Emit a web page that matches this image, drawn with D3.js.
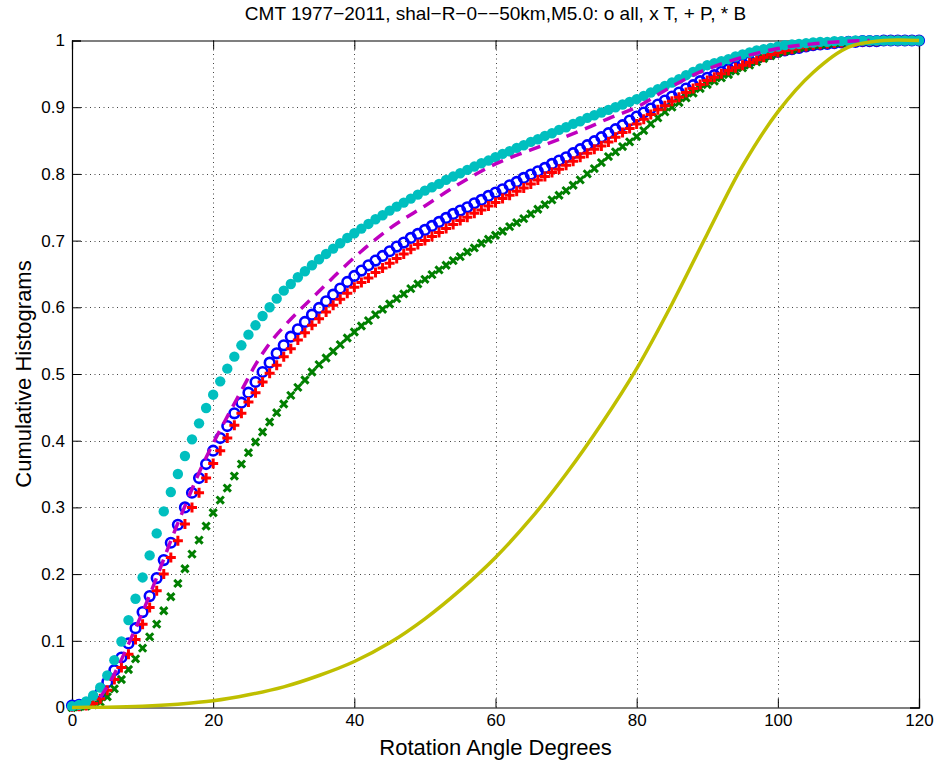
<!DOCTYPE html>
<html>
<head>
<meta charset="utf-8">
<script src="https://cdn.jsdelivr.net/npm/d3@7"></script>
<style>
  body { margin: 0; background: #fff; }
  text { font-family: "Liberation Sans", Arial, sans-serif; }
</style>
</head>
<body>
<script>
// rotation angle bins, 1 degree steps 0..120
const angles = d3.range(0, 121);

// o all (blue circles)
const allVals = [0.003,0.004,0.006,0.011,0.022,0.038,0.056,0.075,0.096,0.119,
  0.143,0.167,0.194,0.221,0.247,0.274,0.300,0.322,0.344,0.365,
  0.385,0.404,0.422,0.441,0.457,0.472,0.488,0.503,0.517,0.531,
  0.543,0.556,0.567,0.578,0.589,0.599,0.609,0.619,0.628,0.638,
  0.647,0.655,0.663,0.670,0.677,0.684,0.691,0.697,0.704,0.710,
  0.716,0.722,0.728,0.734,0.740,0.745,0.750,0.756,0.761,0.767,
  0.772,0.777,0.783,0.788,0.794,0.799,0.804,0.809,0.815,0.820,
  0.825,0.831,0.837,0.843,0.849,0.855,0.861,0.867,0.873,0.880,
  0.886,0.892,0.898,0.904,0.910,0.916,0.922,0.928,0.933,0.939,
  0.944,0.948,0.953,0.957,0.961,0.965,0.969,0.973,0.977,0.980,
  0.983,0.985,0.987,0.989,0.991,0.993,0.994,0.995,0.996,0.997,
  0.998,0.998,0.999,0.999,0.999,1,1,1,1,1,1];

// x T (green)
const tVals = [0.000,0.001,0.002,0.004,0.008,0.016,0.028,0.042,0.057,0.073,
  0.089,0.106,0.125,0.145,0.166,0.186,0.208,0.230,0.251,0.272,
  0.292,0.311,0.329,0.347,0.365,0.382,0.398,0.413,0.428,0.442,
  0.455,0.468,0.480,0.491,0.503,0.514,0.524,0.534,0.544,0.554,
  0.563,0.572,0.580,0.589,0.597,0.605,0.613,0.620,0.628,0.635,
  0.642,0.649,0.656,0.663,0.670,0.676,0.683,0.689,0.696,0.702,
  0.708,0.714,0.721,0.727,0.733,0.740,0.747,0.754,0.761,0.768,
  0.775,0.783,0.791,0.800,0.808,0.817,0.826,0.833,0.841,0.848,
  0.856,0.865,0.875,0.884,0.893,0.900,0.907,0.914,0.921,0.928,
  0.934,0.939,0.944,0.949,0.954,0.959,0.963,0.968,0.973,0.977,
  0.981,0.984,0.986,0.989,0.991,0.993,0.994,0.995,0.996,0.997,
  0.998,0.998,0.999,0.999,0.999,1,1,1,1,1,1];

// + P (red)
const pVals = [0.001,0.002,0.003,0.006,0.013,0.026,0.042,0.060,0.080,0.102,
  0.125,0.150,0.175,0.200,0.225,0.250,0.275,0.300,0.322,0.344,
  0.366,0.385,0.404,0.423,0.441,0.458,0.472,0.488,0.501,0.513,
  0.526,0.538,0.551,0.562,0.573,0.583,0.593,0.603,0.612,0.621,
  0.630,0.637,0.644,0.652,0.659,0.666,0.673,0.680,0.687,0.694,
  0.700,0.706,0.712,0.718,0.724,0.730,0.735,0.741,0.746,0.752,
  0.757,0.763,0.768,0.774,0.779,0.785,0.791,0.796,0.802,0.807,
  0.813,0.819,0.825,0.831,0.837,0.842,0.848,0.855,0.862,0.868,
  0.875,0.882,0.889,0.896,0.902,0.909,0.915,0.922,0.928,0.934,
  0.940,0.945,0.950,0.955,0.959,0.963,0.967,0.971,0.975,0.979,
  0.982,0.985,0.987,0.989,0.991,0.993,0.994,0.995,0.996,0.997,
  0.998,0.998,0.999,0.999,0.999,1,1,1,1,1,1];

// * B (cyan dots)
const bVals = [0.002,0.004,0.009,0.018,0.030,0.048,0.071,0.099,0.131,0.163,
  0.195,0.228,0.261,0.294,0.323,0.350,0.377,0.402,0.426,0.449,
  0.469,0.489,0.508,0.526,0.543,0.559,0.573,0.587,0.600,0.613,
  0.625,0.635,0.645,0.654,0.663,0.672,0.680,0.688,0.696,0.704,
  0.711,0.718,0.725,0.732,0.738,0.745,0.751,0.757,0.763,0.769,
  0.775,0.780,0.785,0.791,0.796,0.801,0.806,0.811,0.816,0.820,
  0.825,0.830,0.834,0.839,0.843,0.848,0.852,0.857,0.861,0.866,
  0.870,0.875,0.879,0.884,0.888,0.892,0.896,0.900,0.904,0.908,
  0.912,0.917,0.922,0.927,0.932,0.937,0.942,0.948,0.953,0.958,
  0.963,0.966,0.969,0.972,0.976,0.979,0.982,0.985,0.987,0.989,
  0.991,0.993,0.994,0.995,0.996,0.997,0.998,0.998,0.999,0.999,
  0.999,1,1,1,1,1,1,1,1,1,1];

// magenta dashed curve
const fitX = [4,6,8,10,12,14,16,18,20,22,24,26,28,30,32,35,38,41,45,50,55,60,65,70,73,76,80,84,88,92,96,100,105,110,113];
const fitY = [0.015,0.05,0.095,0.143,0.195,0.25,0.302,0.352,0.396,0.436,0.475,0.514,0.546,0.571,0.593,0.624,0.655,0.684,0.718,0.752,0.786,0.815,0.836,0.856,0.869,0.883,0.90,0.925,0.948,0.965,0.978,0.988,0.995,0.999,1.0];

// yellow solid curve (random rotation)
const randX = [0,5,10,15,20,25,30,35,40,45,50,55,60,65,70,75,80,85,90,95,100,105,110,115,120];
const randY = [0,0.0005,0.002,0.005,0.010,0.019,0.031,0.048,0.069,0.097,0.133,0.176,0.225,0.283,0.350,0.425,0.508,0.605,0.710,0.812,0.893,0.952,0.990,1.0,1.0];

const xTicks = [0,20,40,60,80,100,120];
const yTicks = [0,0.1,0.2,0.3,0.4,0.5,0.6,0.7,0.8,0.9,1];

const W = 936, H = 769;
const mLeft = 72, mRight = 919, mTop = 40.5, mBottom = 707.5;

const svg = d3.select("body").append("svg").attr("width", W).attr("height", H);

const x = d3.scaleLinear().domain([0, 120]).range([mLeft, mRight]);
const y = d3.scaleLinear().domain([0, 1]).range([mBottom, mTop]);

// grid
const grid = svg.append("g").attr("stroke", "#444").attr("stroke-width", 1)
  .attr("stroke-dasharray", "1,3.5");
grid.selectAll(".gx").data(xTicks.slice(1, -1)).enter().append("line")
  .attr("x1", d => Math.round(x(d)) + 0.5).attr("x2", d => Math.round(x(d)) + 0.5)
  .attr("y1", mTop).attr("y2", mBottom);
grid.selectAll(".gy").data(yTicks.slice(1, -1)).enter().append("line")
  .attr("y1", d => Math.round(y(d)) + 0.5).attr("y2", d => Math.round(y(d)) + 0.5)
  .attr("x1", mLeft).attr("x2", mRight);

// axes (MATLAB box, inward ticks on all sides)
const tl = 9;
const axB = svg.append("g").attr("transform", `translate(0,${mBottom})`)
  .call(d3.axisBottom(x).tickValues(xTicks).tickSize(-tl).tickPadding(6).tickFormat(d3.format("d")));
const axT = svg.append("g").attr("transform", `translate(0,${mTop})`)
  .call(d3.axisTop(x).tickValues(xTicks).tickSize(-tl).tickFormat(""));
const axL = svg.append("g").attr("transform", `translate(${mLeft},0)`)
  .call(d3.axisLeft(y).tickValues(yTicks).tickSize(-tl).tickPadding(7).tickFormat(d => d === 0 || d === 1 ? d3.format("d")(d) : d3.format(".1f")(d)));
const axR = svg.append("g").attr("transform", `translate(${mRight},0)`)
  .call(d3.axisRight(y).tickValues(yTicks).tickSize(-tl).tickFormat(""));
[axB, axT, axL, axR].forEach(a => {
  a.select(".domain").attr("stroke", "#000").attr("stroke-width", 1.2);
  a.selectAll(".tick line").attr("stroke", "#000");
  a.selectAll("text").attr("fill", "#000").style("font-size", "17px")
    .style("font-family", '"Liberation Sans", Arial, sans-serif');
});

const pts = vals => angles.map((a, i) => [a, vals[i]]);

// o all
svg.append("g").selectAll("circle").data(pts(allVals)).enter().append("circle")
  .attr("cx", d => x(d[0])).attr("cy", d => y(d[1])).attr("r", 4.8)
  .attr("fill", "none").attr("stroke", "#0000ff").attr("stroke-width", 2.6);

// x T
const xs = 3.6;
svg.append("g").selectAll("path").data(pts(tVals)).enter().append("path")
  .attr("d", d => { const cx = x(d[0]), cy = y(d[1]);
    return `M${cx - xs},${cy - xs}L${cx + xs},${cy + xs}M${cx - xs},${cy + xs}L${cx + xs},${cy - xs}`; })
  .attr("stroke", "#007f00").attr("stroke-width", 3).attr("fill", "none");

// + P
const ps = 5;
svg.append("g").selectAll("path").data(pts(pVals)).enter().append("path")
  .attr("d", d => { const cx = x(d[0]), cy = y(d[1]);
    return `M${cx - ps},${cy}L${cx + ps},${cy}M${cx},${cy - ps}L${cx},${cy + ps}`; })
  .attr("stroke", "#ff0000").attr("stroke-width", 3).attr("fill", "none");

// * B
svg.append("g").selectAll("circle").data(pts(bVals)).enter().append("circle")
  .attr("cx", d => x(d[0])).attr("cy", d => y(d[1])).attr("r", 5.2)
  .attr("fill", "#00bfbf");

// dashed magenta
const line = d3.line().x(d => x(d[0])).y(d => y(d[1])).curve(d3.curveMonotoneX);
svg.append("path").datum(fitX.map((v, i) => [v, fitY[i]]))
  .attr("d", line).attr("fill", "none").attr("stroke", "#bf00bf")
  .attr("stroke-width", 3.5).attr("stroke-dasharray", "12,8");

// yellow solid
const smooth = d3.line().x(d => x(d[0])).y(d => y(Math.min(1, d[1]))).curve(d3.curveCatmullRom.alpha(0.5));
svg.append("path").datum(randX.map((v, i) => [v, randY[i]]))
  .attr("d", smooth).attr("fill", "none").attr("stroke", "#bfbf00")
  .attr("stroke-width", 3.5);

// title and labels
svg.append("text").attr("x", (mLeft + mRight) / 2).attr("y", 20).attr("text-anchor", "middle")
  .style("font-size", "19px").text("CMT 1977\u22122011, shal\u2212R\u22120\u2212\u221250km,M5.0: o all, x T, + P, * B");
svg.append("text").attr("x", (mLeft + mRight) / 2).attr("y", 755).attr("text-anchor", "middle")
  .style("font-size", "22px").text("Rotation Angle Degrees");
svg.append("text").attr("transform", `translate(31,${(mTop + mBottom) / 2}) rotate(-90)`)
  .attr("text-anchor", "middle").style("font-size", "22px").text("Cumulative Histograms");
</script>
</body>
</html>
